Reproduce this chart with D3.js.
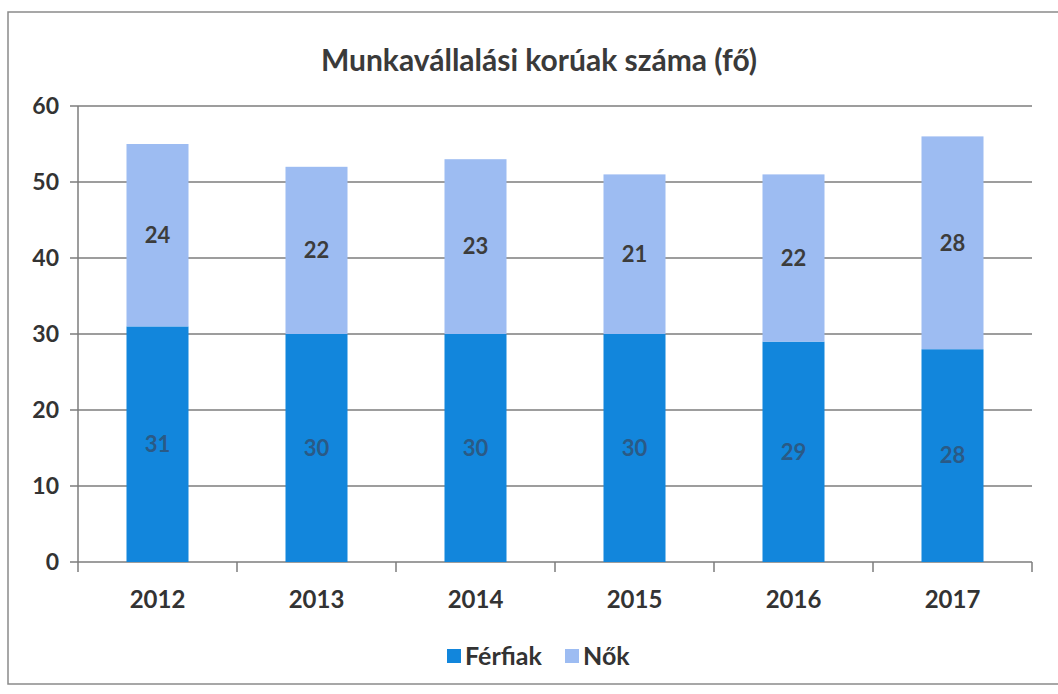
<!DOCTYPE html>
<html>
<head>
<meta charset="utf-8">
<script src="https://cdn.jsdelivr.net/npm/d3@7"></script>
<style>
  body { margin: 0; background: #fff; }
  svg { display: block; font-family: Lato, "Open Sans", sans-serif; }
</style>
</head>
<body>
<svg id="chart" width="1058" height="694"></svg>
<script>
const years = ['2012', '2013', '2014', '2015', '2016', '2017']
const ferfiak = [31, 30, 30, 30, 29, 28]
const nok = [24, 22, 23, 21, 22, 28]
const seriesNames = ['Férfiak', 'Nők']
const yTicks = [0, 10, 20, 30, 40, 50, 60]

const colors = ['#1286dc', '#9dbcf2']

const svg = d3.select('#chart')
const margin = { top: 106, left: 78, right: 1032, bottom: 562 }

// outer frame
svg.append('rect')
  .attr('x', 8).attr('y', 12)
  .attr('width', 1060).attr('height', 672)
  .attr('fill', 'none').attr('stroke', '#8a8a8a').attr('stroke-width', 1.5)

svg.append('text')
  .attr('x', 539).attr('y', 71)
  .attr('text-anchor', 'middle')
  .attr('font-size', 30).attr('font-weight', 'bold')
  .attr('fill', '#3a3a3a')
  .text('Munkavállalási korúak száma (fő)')

const x = d3.scaleBand().domain(years).range([margin.left, margin.right]).paddingInner(0.61).paddingOuter(0.305)
const y = d3.scaleLinear().domain([0, 60]).range([margin.bottom, margin.top])

// gridlines
svg.append('g')
  .selectAll('line')
  .data(yTicks)
  .join('line')
  .attr('x1', margin.left - 8).attr('x2', margin.right)
  .attr('y1', d => y(d)).attr('y2', d => y(d))
  .attr('stroke', '#7d7d7d').attr('stroke-width', 1.5)

// y axis line
svg.append('line')
  .attr('x1', margin.left).attr('x2', margin.left)
  .attr('y1', y(60)).attr('y2', y(0))
  .attr('stroke', '#7d7d7d').attr('stroke-width', 1.5)

// y labels
svg.append('g')
  .selectAll('text')
  .data(yTicks)
  .join('text')
  .attr('x', 59).attr('y', d => y(d))
  .attr('dy', '0.35em')
  .attr('text-anchor', 'end')
  .attr('font-size', 23).attr('font-weight', 'bold')
  .attr('fill', '#333')
  .text(d => d)

// x ticks between categories
const step = x.step()
svg.append('g')
  .selectAll('line')
  .data(d3.range(years.length + 1))
  .join('line')
  .attr('x1', i => margin.left + i * step).attr('x2', i => margin.left + i * step)
  .attr('y1', y(0)).attr('y2', y(0) + 10)
  .attr('stroke', '#7d7d7d').attr('stroke-width', 1.5)

// stacked bars
const rows = years.map((yr, i) => ({ year: yr, 'Férfiak': ferfiak[i], 'Nők': nok[i] }))
const stack = d3.stack().keys(seriesNames)(rows)

const layers = svg.append('g')
  .selectAll('g')
  .data(stack)
  .join('g')
  .attr('fill', (d, i) => colors[i])

layers.selectAll('rect')
  .data(d => d)
  .join('rect')
  .attr('x', d => x(d.data.year))
  .attr('width', x.bandwidth())
  .attr('y', d => y(d[1]))
  .attr('height', d => y(d[0]) - y(d[1]))

layers.selectAll('text')
  .data((d, i) => d.map(v => ({ v, i })))
  .join('text')
  .attr('x', d => x(d.v.data.year) + x.bandwidth() / 2)
  .attr('y', d => y((d.v[0] + d.v[1]) / 2))
  .attr('dy', '0.35em')
  .attr('text-anchor', 'middle')
  .attr('font-size', 22).attr('font-weight', 'bold')
  .attr('fill', d => d.i === 0 ? '#2a5a86' : '#3c3c3c')
  .text(d => d.v[1] - d.v[0])

// x labels
svg.append('g')
  .selectAll('text')
  .data(years)
  .join('text')
  .attr('x', d => x(d) + x.bandwidth() / 2)
  .attr('y', 608)
  .attr('text-anchor', 'middle')
  .attr('font-size', 24).attr('font-weight', 'bold')
  .attr('fill', '#333')
  .text(d => d)

// legend
const legendX = [447, 565]
const legend = svg.append('g')
  .selectAll('g')
  .data(seriesNames)
  .join('g')
  .attr('transform', (d, i) => `translate(${legendX[i]},656)`)

legend.append('rect')
  .attr('x', 0).attr('y', -7)
  .attr('width', 14).attr('height', 14)
  .attr('fill', (d, i) => colors[i])

legend.append('text')
  .attr('x', 18).attr('dy', '0.35em')
  .attr('font-size', 25).attr('font-weight', 'bold')
  .attr('fill', '#333')
  .text(d => d)
</script>
</body>
</html>
